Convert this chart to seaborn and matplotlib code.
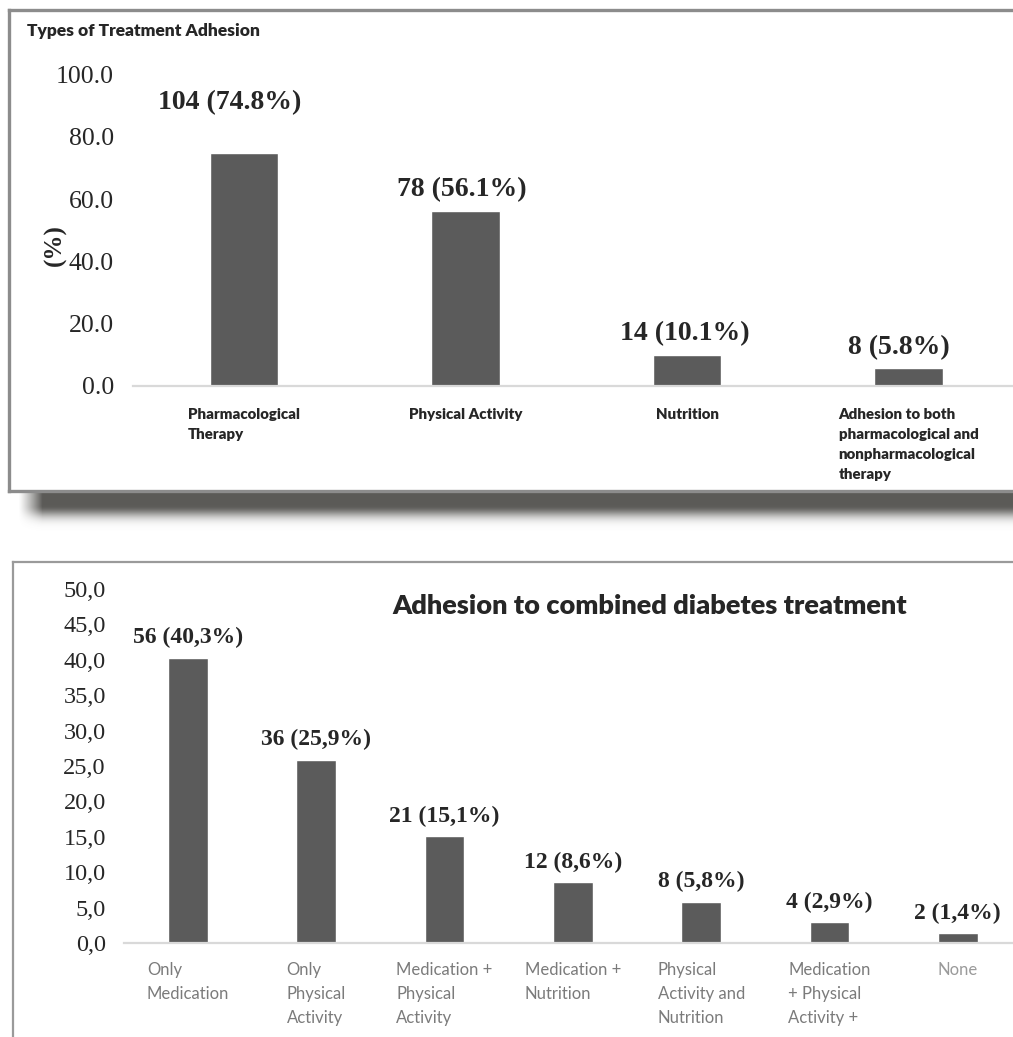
import numpy as np
import pandas as pd
import matplotlib
matplotlib.use("Agg")
import matplotlib.pyplot as plt
from matplotlib.lines import Line2D
import seaborn as sns

# ---- data -------------------------------------------------------------
type_labels = [
    "Pharmacological\nTherapy",
    "Physical Activity",
    "Nutrition",
    "Adhesion to both\npharmacological and\nnonpharmacological\ntherapy",
]
type_counts = [104, 78, 14, 8]
type_percent = [74.8, 56.1, 10.1, 5.8]
type_yticks = [0, 20, 40, 60, 80, 100]

combo_labels = [
    "Only\nMedication",
    "Only\nPhysical\nActivity",
    "Medication +\nPhysical\nActivity",
    "Medication +\nNutrition",
    "Physical\nActivity and\nNutrition",
    "Medication\n+ Physical\nActivity +",
    "None",
]
combo_counts = [56, 36, 21, 12, 8, 4, 2]
combo_percent = [40.3, 25.9, 15.1, 8.6, 5.8, 2.9, 1.4]
combo_yticks = [0, 5, 10, 15, 20, 25, 30, 35, 40, 45, 50]

# ---- figure setup -----------------------------------------------------
W, H = 1013, 1037
sns.set_theme(style="white")
plt.rcParams["font.family"] = ["Liberation Serif", "DejaVu Sans"]
fig = plt.figure(figsize=(W / 100, H / 100), dpi=100)
fig.patch.set_facecolor("white")

SANS = ["Lato", "DejaVu Sans"]
SERIF = ["Liberation Serif", "DejaVu Serif"]
BAR = "#5b5b5b"


def fx(x):
    return x / W


def fy(y):
    return 1 - y / H


def style_axes(ax):
    for s in ("top", "right", "left"):
        ax.spines[s].set_visible(False)
    ax.spines["bottom"].set_color("#d9d9d9")
    ax.spines["bottom"].set_linewidth(1.6)
    ax.tick_params(axis="both", length=0)
    ax.set_xlabel("")
    ax.set_ylabel("")
    ax.set_facecolor("none")


# ---- panel frames and drop shadow ------------------------------------
sh_top, sh_bot, sh_left = 490, 532, 12
shadow_ax = fig.add_axes([fx(sh_left), fy(sh_bot), fx(W - sh_left),
                          (sh_bot - sh_top) / H])
sh_h, sh_w = sh_bot - sh_top, W - sh_left
rows = np.arange(sh_h)[:, None].astype(float)
cols = np.arange(sh_w)[None, :].astype(float)
# solid band right under the frame, then a soft fade downwards
v_prof = np.where(rows < 15, 1.0, np.exp(-((rows - 15) / 11.0) ** 2))
h_prof = np.clip((cols - 6) / 24.0, 0, 1) ** 1.2
alpha = v_prof * h_prof
rgba = np.zeros((sh_h, sh_w, 4))
rgba[..., 0] = 0.36
rgba[..., 1] = 0.353
rgba[..., 2] = 0.345
rgba[..., 3] = alpha
shadow_ax.imshow(rgba, aspect="auto", interpolation="bilinear")
shadow_ax.axis("off")

frame_kw = dict(transform=fig.transFigure, color="#8c8c8c", linewidth=2.4,
                solid_capstyle="projecting")
fig.add_artist(Line2D([fx(9), fx(W + 5)], [fy(10), fy(10)], **frame_kw))
fig.add_artist(Line2D([fx(9), fx(9)], [fy(10), fy(491)], **frame_kw))
fig.add_artist(Line2D([fx(9), fx(W + 5)], [fy(491), fy(491)], **frame_kw))

frame2_kw = dict(transform=fig.transFigure, color="#9a9a9a", linewidth=1.6,
                 solid_capstyle="projecting")
fig.add_artist(Line2D([fx(13), fx(W + 5)], [fy(562), fy(562)], **frame2_kw))
fig.add_artist(Line2D([fx(13), fx(13)], [fy(562), fy(H + 5)], **frame2_kw))

# ---- top panel: types of treatment adhesion ---------------------------
top_step = 221.5
ax1 = fig.add_axes([fx(244 - top_step / 2), fy(386), fx(4 * top_step),
                    (386 - 74.5) / H])
df1 = pd.DataFrame({"type": type_labels, "pct": type_percent})
sns.barplot(data=df1, x="type", y="pct", order=type_labels, color=BAR,
            saturation=1, width=0.31, ax=ax1)
style_axes(ax1)
ax1.set_xlim(-0.5, 3.5)
ax1.set_ylim(0, 100)
ax1.set_yticks(type_yticks)
ax1.set_yticklabels([f"{v:.1f}" for v in type_yticks], fontfamily=SERIF,
                    fontsize=18.5)
ax1.tick_params(axis="y", pad=14)
ax1.tick_params(axis="x", pad=16)
for lab in ax1.get_xticklabels():
    lab.set_fontfamily(SANS)
    lab.set_fontweight("heavy")
    lab.set_fontsize(10.8)
    lab.set_multialignment("left")
    lab.set_linespacing(1.62)
    lab.set_verticalalignment("top")

top_label_lift = [50, 22, 21, 20]
top_label_shift = [-14, -4, -2, -10]
for i, (n, p) in enumerate(zip(type_counts, type_percent)):
    ax1.annotate(f"{n} ({p:.1f}%)", xy=(i, p),
                 xytext=(top_label_shift[i], top_label_lift[i]),
                 textcoords="offset pixels", ha="center", va="center",
                 fontfamily=SERIF, fontweight="bold", fontsize=20,
                 annotation_clip=False)

fig.text(fx(27), fy(31), "Types of Treatment Adhesion", fontfamily=SANS,
         fontweight="heavy", fontsize=12.5, ha="left", va="center")
fig.text(fx(55), fy(245), "(%)", fontfamily=SERIF, fontweight="bold",
         fontsize=18, rotation=90, ha="center", va="center")

# ---- bottom panel: combined treatment adhesion ------------------------
bot_step = 128.3
ax2 = fig.add_axes([fx(188 - bot_step / 2), fy(943), fx(7 * bot_step),
                    (943 - 589) / H])
df2 = pd.DataFrame({"combo": combo_labels, "pct": combo_percent})
sns.barplot(data=df2, x="combo", y="pct", order=combo_labels, color=BAR,
            saturation=1, width=0.31, ax=ax2)
style_axes(ax2)
ax2.set_xlim(-0.5, 6.5)
ax2.set_ylim(0, 50)
ax2.set_yticks(combo_yticks)
ax2.set_yticklabels([f"{v:.1f}".replace(".", ",") for v in combo_yticks],
                    fontfamily=SERIF, fontsize=17.5)
ax2.tick_params(axis="y", pad=13)
ax2.tick_params(axis="x", pad=14)
for i, lab in enumerate(ax2.get_xticklabels()):
    lab.set_fontfamily(SANS)
    lab.set_fontsize(12)
    lab.set_color("#9a9a9a" if i == len(combo_labels) - 1 else "#7b7b7b")
    lab.set_multialignment("left")
    lab.set_linespacing(1.6)
    lab.set_verticalalignment("top")

for i, (n, p) in enumerate(zip(combo_counts, combo_percent)):
    txt = f"{n} ({p:.1f}%)".replace(".", ",")
    ax2.annotate(txt, xy=(i, p), xytext=(0, 20), textcoords="offset pixels",
                 ha="center", va="center", fontfamily=SERIF,
                 fontweight="bold", fontsize=17, annotation_clip=False)

fig.text(fx(650), fy(606), "Adhesion to combined diabetes treatment",
         fontfamily=SANS, fontweight="heavy", fontsize=19.5, ha="center",
         va="center")

fig.savefig("out.png", dpi=100, facecolor="white")
